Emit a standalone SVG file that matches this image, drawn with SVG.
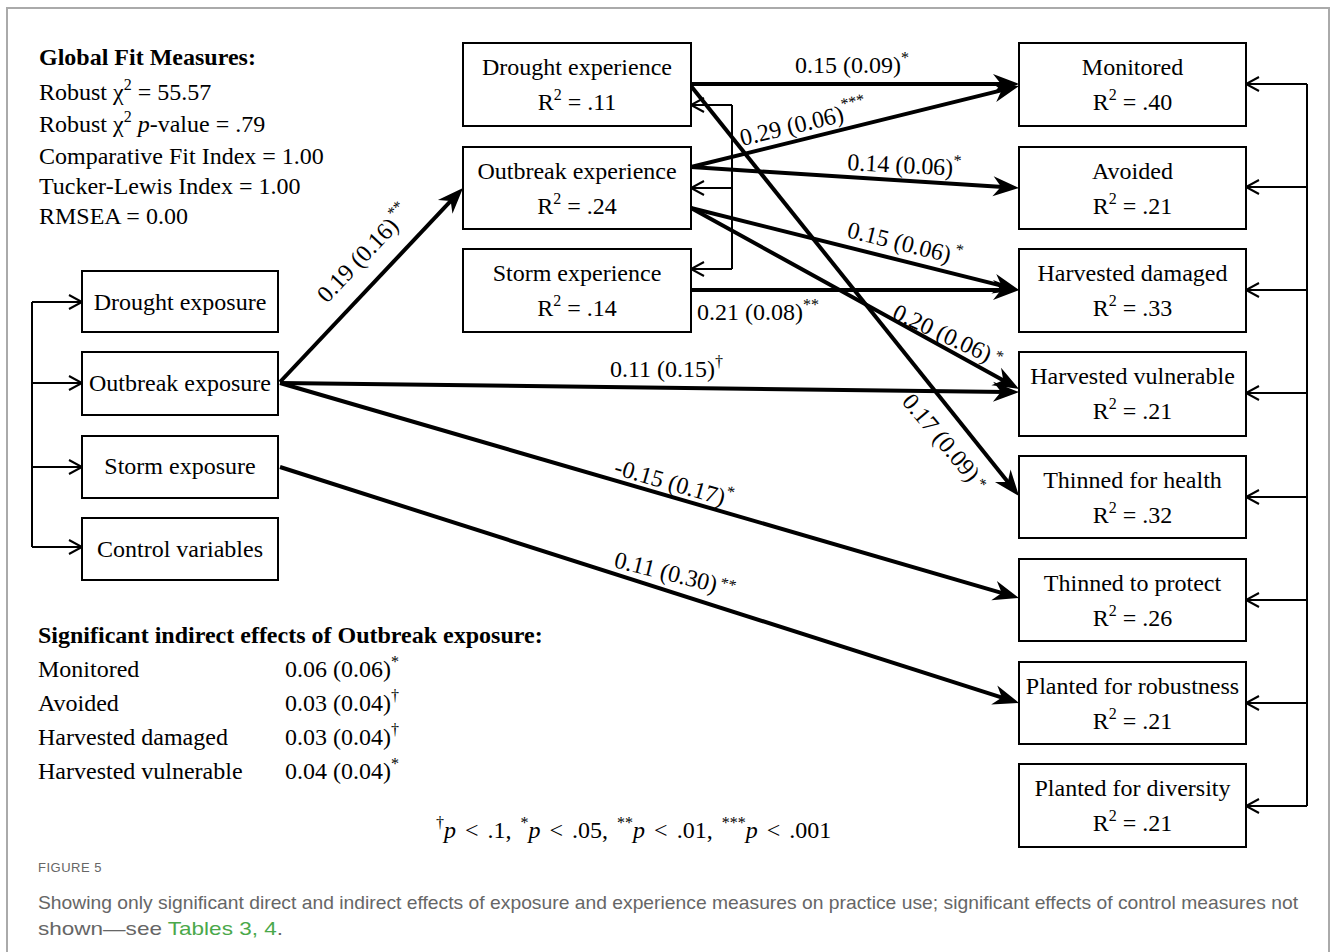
<svg xmlns="http://www.w3.org/2000/svg" width="1334" height="952" viewBox="0 0 1334 952">
<style>
  .box { fill: #fff; stroke: #000; stroke-width: 2; }
  .t { font-family: "Liberation Serif", "Times New Roman", serif; font-size: 24px; fill: #000; }
  .c { text-anchor: middle; }
  .b { font-weight: bold; }
  .thick { fill: none; stroke: #000; stroke-width: 4; marker-end: url(#solid); }
  .thin { fill: none; stroke: #000; stroke-width: 2; }
  .thinA { fill: none; stroke: #000; stroke-width: 2; marker-end: url(#open); }
  .cap { font-family: "Liberation Sans", Arial, sans-serif; fill: #666; }
</style>
<defs>
  <marker id="solid" markerUnits="userSpaceOnUse" viewBox="-16 -12 30 24" markerWidth="30" markerHeight="24" refX="0" refY="0" orient="auto">
    <path d="M12,0 L-14,-10 L-6,0 L-14,10 Z" fill="#000"/>
  </marker>
  <marker id="open" markerUnits="userSpaceOnUse" viewBox="-16 -10 20 20" markerWidth="20" markerHeight="20" refX="0" refY="0" orient="auto">
    <path d="M-13,-7 L0,0 L-13,7" fill="none" stroke="#000" stroke-width="2"/>
  </marker>
</defs>

<rect x="7" y="8" width="1322" height="980" fill="#fff" stroke="#aaa" stroke-width="2"/>

<!-- Fit measures -->
<g id="fit">
  <text class="t b" x="39" y="65">Global Fit Measures:</text>
  <text class="t" x="39" y="100">Robust χ<tspan dy="-10" font-size="16">2</tspan><tspan dy="10"> = 55.57</tspan></text>
  <text class="t" x="39" y="132">Robust χ<tspan dy="-10" font-size="16">2</tspan><tspan dy="10"> </tspan><tspan font-style="italic">p</tspan>-value = .79</text>
  <text class="t" x="39" y="164">Comparative Fit Index = 1.00</text>
  <text class="t" x="39" y="194">Tucker-Lewis Index = 1.00</text>
  <text class="t" x="39" y="224">RMSEA = 0.00</text>
</g>

<!-- Connectors -->
<g id="connectors">
  <!-- left bracket -->
  <path class="thin" d="M32,302 V547"/>
  <path class="thinA" d="M32,302 H82"/>
  <path class="thinA" d="M32,383 H82"/>
  <path class="thinA" d="M32,467 H82"/>
  <path class="thinA" d="M32,547 H82"/>
  <!-- middle bracket -->
  <path class="thin" d="M732,105 V269"/>
  <path class="thinA" d="M732,105 H691"/>
  <path class="thinA" d="M732,188 H691"/>
  <path class="thinA" d="M732,269 H691"/>
  <!-- right bracket -->
  <path class="thin" d="M1307,84 V806"/>
  <path class="thinA" d="M1307,84 H1246"/>
  <path class="thinA" d="M1307,187 H1246"/>
  <path class="thinA" d="M1307,290 H1246"/>
  <path class="thinA" d="M1307,393 H1246"/>
  <path class="thinA" d="M1307,497 H1246"/>
  <path class="thinA" d="M1307,600 H1246"/>
  <path class="thinA" d="M1307,703 H1246"/>
  <path class="thinA" d="M1307,806 H1246"/>

  <!-- thick paths -->
  <path class="thick" d="M280,382 L454.8,196.7"/>
  <path class="thick" d="M280,383 L1007,391.9"/>
  <path class="thick" d="M280,383 L1007.5,594.6"/>
  <path class="thick" d="M280,467 L1007.6,699.3"/>
  <path class="thick" d="M691,84 L1007,84"/>
  <path class="thick" d="M691,167 L1007.4,88.9"/>
  <path class="thick" d="M691,167 L1007,187.2"/>
  <path class="thick" d="M691,208 L1007.4,287.1"/>
  <path class="thick" d="M691,208 L1008.5,383.2"/>
  <path class="thick" d="M691,86 L1011.5,486.6"/>
  <path class="thick" d="M691,290 L1007,290"/>

  <!-- labels -->
  <text class="t" transform="translate(327,304) rotate(-46.7)">0.19 (0.16)<tspan dx="2" dy="-10" font-size="16">**</tspan></text>
  <text class="t" x="610" y="377">0.11 (0.15)<tspan dy="-10" font-size="16">†</tspan></text>
  <text class="t" transform="translate(613,474) rotate(16)">-0.15 (0.17)<tspan dy="-10" font-size="16">*</tspan></text>
  <text class="t" transform="translate(613,567) rotate(14)">0.11 (0.30)<tspan dx="3" dy="-6" font-size="16">**</tspan></text>
  <text class="t" x="795" y="73">0.15 (0.09)<tspan dy="-10" font-size="16">*</tspan></text>
  <text class="t" transform="translate(742,146) rotate(-13.5)">0.29 (0.06)<tspan dy="-12" font-size="16">***</tspan></text>
  <text class="t" transform="translate(847,170) rotate(3)">0.14 (0.06)<tspan dy="-10" font-size="16">*</tspan></text>
  <text class="t" transform="translate(846,237) rotate(14)">0.15 (0.06)<tspan dx="3" dy="-10" font-size="16">*</tspan></text>
  <text class="t" x="697" y="320">0.21 (0.08)<tspan dy="-10" font-size="16">**</tspan></text>
  <text class="t" transform="translate(891,318) rotate(25)">0.20 (0.06)<tspan dx="4" dy="-6" font-size="16">*</tspan></text>
  <text class="t" transform="translate(901,402) rotate(50)">0.17 (0.09)<tspan dx="4" dy="-4" font-size="16">*</tspan></text>
</g>

<!-- Left exposure boxes -->
<g id="drought-exposure"><rect class="box" x="82" y="271" width="196" height="61"/><text class="t c" x="180" y="310">Drought exposure</text></g>
<g id="outbreak-exposure"><rect class="box" x="82" y="352" width="196" height="63"/><text class="t c" x="180" y="391">Outbreak exposure</text></g>
<g id="storm-exposure"><rect class="box" x="82" y="436" width="196" height="62"/><text class="t c" x="180" y="474">Storm exposure</text></g>
<g id="control-variables"><rect class="box" x="82" y="518" width="196" height="62"/><text class="t c" x="180" y="557">Control variables</text></g>

<!-- Middle experience boxes -->
<g id="drought-experience"><rect class="box" x="463" y="43" width="228" height="83"/><text class="t c" x="577" y="75">Drought experience</text><text class="t c" x="577" y="110">R<tspan dy="-10" font-size="16">2</tspan><tspan dy="10"> = .11</tspan></text></g>
<g id="outbreak-experience"><rect class="box" x="463" y="147" width="228" height="82"/><text class="t c" x="577" y="179">Outbreak experience</text><text class="t c" x="577" y="214">R<tspan dy="-10" font-size="16">2</tspan><tspan dy="10"> = .24</tspan></text></g>
<g id="storm-experience"><rect class="box" x="463" y="249" width="228" height="83"/><text class="t c" x="577" y="281">Storm experience</text><text class="t c" x="577" y="316">R<tspan dy="-10" font-size="16">2</tspan><tspan dy="10"> = .14</tspan></text></g>

<!-- Right outcome boxes -->
<g id="monitored"><rect class="box" x="1019" y="43" width="227" height="83"/><text class="t c" x="1132.5" y="75">Monitored</text><text class="t c" x="1132.5" y="110">R<tspan dy="-10" font-size="16">2</tspan><tspan dy="10"> = .40</tspan></text></g>
<g id="avoided"><rect class="box" x="1019" y="147" width="227" height="82"/><text class="t c" x="1132.5" y="179">Avoided</text><text class="t c" x="1132.5" y="214">R<tspan dy="-10" font-size="16">2</tspan><tspan dy="10"> = .21</tspan></text></g>
<g id="harvested-damaged"><rect class="box" x="1019" y="249" width="227" height="83"/><text class="t c" x="1132.5" y="281">Harvested damaged</text><text class="t c" x="1132.5" y="316">R<tspan dy="-10" font-size="16">2</tspan><tspan dy="10"> = .33</tspan></text></g>
<g id="harvested-vulnerable"><rect class="box" x="1019" y="352" width="227" height="84"/><text class="t c" x="1132.5" y="384">Harvested vulnerable</text><text class="t c" x="1132.5" y="419">R<tspan dy="-10" font-size="16">2</tspan><tspan dy="10"> = .21</tspan></text></g>
<g id="thinned-health"><rect class="box" x="1019" y="456" width="227" height="82"/><text class="t c" x="1132.5" y="488">Thinned for health</text><text class="t c" x="1132.5" y="523">R<tspan dy="-10" font-size="16">2</tspan><tspan dy="10"> = .32</tspan></text></g>
<g id="thinned-protect"><rect class="box" x="1019" y="559" width="227" height="82"/><text class="t c" x="1132.5" y="591">Thinned to protect</text><text class="t c" x="1132.5" y="626">R<tspan dy="-10" font-size="16">2</tspan><tspan dy="10"> = .26</tspan></text></g>
<g id="planted-robustness"><rect class="box" x="1019" y="662" width="227" height="82"/><text class="t c" x="1132.5" y="694">Planted for robustness</text><text class="t c" x="1132.5" y="729">R<tspan dy="-10" font-size="16">2</tspan><tspan dy="10"> = .21</tspan></text></g>
<g id="planted-diversity"><rect class="box" x="1019" y="764" width="227" height="83"/><text class="t c" x="1132.5" y="796">Planted for diversity</text><text class="t c" x="1132.5" y="831">R<tspan dy="-10" font-size="16">2</tspan><tspan dy="10"> = .21</tspan></text></g>

<!-- Indirect effects -->
<g id="indirect">
  <text class="t b" x="38" y="643">Significant indirect effects of Outbreak exposure:</text>
  <text class="t" x="38" y="677">Monitored</text>
  <text class="t" x="285" y="677">0.06 (0.06)<tspan dy="-10" font-size="16">*</tspan></text>
  <text class="t" x="38" y="711">Avoided</text>
  <text class="t" x="285" y="711">0.03 (0.04)<tspan dy="-10" font-size="16">†</tspan></text>
  <text class="t" x="38" y="745">Harvested damaged</text>
  <text class="t" x="285" y="745">0.03 (0.04)<tspan dy="-10" font-size="16">†</tspan></text>
  <text class="t" x="38" y="779">Harvested vulnerable</text>
  <text class="t" x="285" y="779">0.04 (0.04)<tspan dy="-10" font-size="16">*</tspan></text>
</g>

<!-- Footnote -->
<g id="footnote">
  <text class="t" x="436" y="838" word-spacing="3"><tspan dy="-10" font-size="16">†</tspan><tspan dy="10" font-style="italic">p</tspan> &lt; .1, <tspan dy="-10" font-size="16">*</tspan><tspan dy="10" font-style="italic">p</tspan> &lt; .05, <tspan dy="-10" font-size="16">**</tspan><tspan dy="10" font-style="italic">p</tspan> &lt; .01, <tspan dy="-10" font-size="16">***</tspan><tspan dy="10" font-style="italic">p</tspan> &lt; .001</text>
</g>

<!-- Caption -->
<g id="caption">
  <text class="cap" x="38" y="872" font-size="13" letter-spacing="0.5" fill="#555">FIGURE 5</text>
  <text class="cap" x="38" y="909" font-size="19" textLength="1260" lengthAdjust="spacingAndGlyphs">Showing only significant direct and indirect effects of exposure and experience measures on practice use; significant effects of control measures not</text>
  <text class="cap" x="38" y="935" font-size="19" textLength="245" lengthAdjust="spacingAndGlyphs">shown—see <tspan fill="#4aa84a">Tables 3, 4</tspan>.</text>
</g>
</svg>
